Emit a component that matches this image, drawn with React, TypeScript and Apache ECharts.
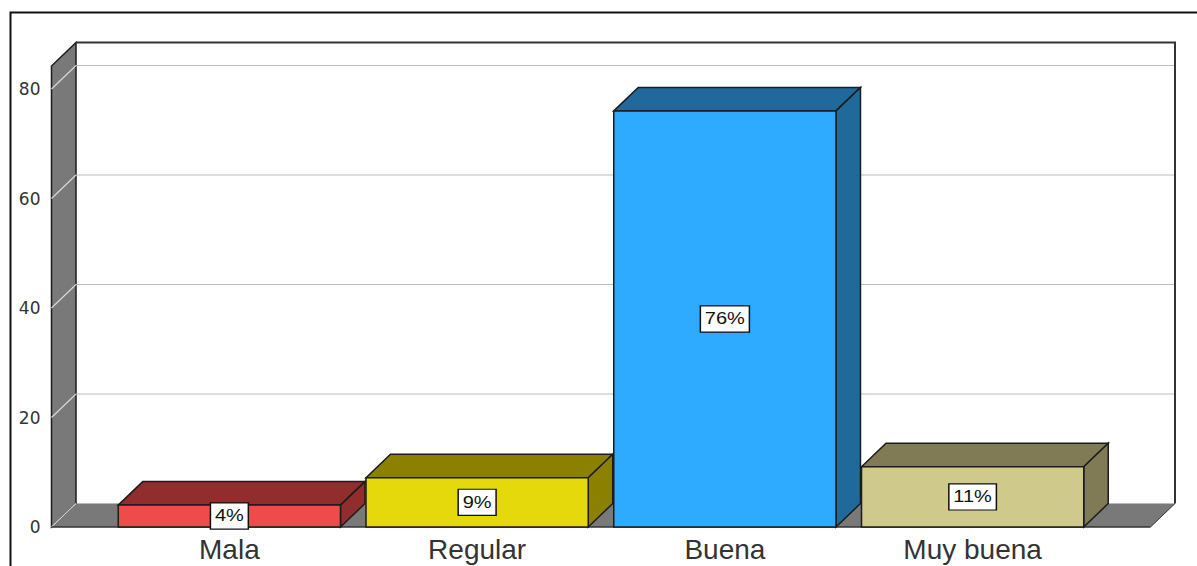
import React, { useEffect, useRef } from "react";
import * as echarts from "echarts";

const categories = ["Mala", "Regular", "Buena", "Muy buena"];
const percentages = [4, 9, 76, 11];
const frontColors = ["#EE4B4B", "#E5D80B", "#2EAAFF", "#CFC98B"];
const shadeColors = ["#922D2D", "#8C8000", "#1F6A9B", "#807B55"];
const yTicks = [0, 20, 40, 60, 80];
const wallTopValue = 84.2;

const DEPTH_X = 24.5;
const DEPTH_Y = 23.5;
const FLOOR_OVERHANG = 54;
const OUTLINE = "#1c1c1c";

const poly = (points: number[][], fill: string, stroke = OUTLINE, lineWidth = 1.5) => ({
  type: "polygon",
  shape: { points },
  style: { fill, stroke, lineWidth },
});

const segment = (points: number[][], stroke: string, lineWidth = 1.2) => ({
  type: "polyline",
  shape: { points },
  style: { fill: "none", stroke, lineWidth },
});

// Side wall, floor, back wall edges and the grid lines that fold across them.
function renderRoom(params: any, api: any) {
  const sys = params.coordSys;
  const left = sys.x - FLOOR_OVERHANG;
  const right = sys.x + sys.width + FLOOR_OVERHANG;
  const y0 = api.coord([0, 0])[1];
  const yTop = api.coord([0, wallTopValue])[1];
  const wallGray = "#797979";
  const children: any[] = [
    poly(
      [[left, y0], [left + DEPTH_X, y0 - DEPTH_Y], [right + DEPTH_X, y0 - DEPTH_Y], [right, y0]],
      wallGray,
      "none",
      0,
    ),
    poly(
      [[left, y0], [left, yTop], [left + DEPTH_X, yTop - DEPTH_Y], [left + DEPTH_X, y0 - DEPTH_Y]],
      wallGray,
      OUTLINE,
      1.5,
    ),
  ];
  yTicks.forEach((tick) => {
    const y = api.coord([0, tick])[1];
    children.push(segment([[left, y], [left + DEPTH_X, y - DEPTH_Y]], "#d8d8d8"));
    if (tick > 0) {
      children.push(segment([[left + DEPTH_X, y - DEPTH_Y], [right + DEPTH_X, y - DEPTH_Y]], "#bdbdbd"));
    }
  });
  children.push(
    segment([[left + DEPTH_X, yTop - DEPTH_Y], [right + DEPTH_X, yTop - DEPTH_Y], [right + DEPTH_X, y0 - DEPTH_Y]], "#333333", 2),
    segment([[left, y0], [right, y0]], "#333333", 1.5),
    segment([[right, y0], [right + DEPTH_X, y0 - DEPTH_Y]], "#333333", 1),
  );
  return { type: "group", children };
}

// One extruded column: front face, top face, right side and its boxed percentage.
function renderColumn(params: any, api: any) {
  const index = api.value(0);
  const value = api.value(1);
  const [cx, top] = api.coord([index, value]);
  const [, base] = api.coord([index, 0]);
  const half = (api.size([1, 0])[0] * 0.897) / 2;
  const l = cx - half;
  const r = cx + half;
  const shade = shadeColors[params.dataIndex];
  return {
    type: "group",
    children: [
      poly([[l, top], [l + DEPTH_X, top - DEPTH_Y], [r + DEPTH_X, top - DEPTH_Y], [r, top]], shade),
      poly([[r, top], [r + DEPTH_X, top - DEPTH_Y], [r + DEPTH_X, base - DEPTH_Y], [r, base]], shade),
      poly([[l, top], [r, top], [r, base], [l, base]], frontColors[params.dataIndex]),
      {
        type: "text",
        x: cx,
        y: (top + base) / 2,
        scaleX: 1.25,
        style: {
          text: `${value}%`,
          fontFamily: "Liberation Sans",
          fontSize: 16,
          fill: "#111111",
          align: "center",
          verticalAlign: "middle",
          backgroundColor: "#ffffff",
          borderColor: "#111111",
          borderWidth: 1.2,
          padding: [5, 3, 4, 3],
        },
      },
    ],
  };
}

export default function App() {
  const ref = useRef<HTMLDivElement>(null);

  useEffect(() => {
    const chart = echarts.init(ref.current!, undefined, { renderer: "svg" });
    chart.setOption({
      animation: false,
      backgroundColor: "#ffffff",
      grid: { left: 105.5, top: 89, width: 991, height: 438 },
      xAxis: {
        type: "category",
        data: categories,
        axisLine: { show: false },
        axisTick: { show: false },
        axisLabel: {
          color: "#333333",
          fontFamily: "Liberation Sans",
          fontSize: 28,
          margin: 8,
        },
      },
      yAxis: {
        type: "value",
        min: 0,
        max: 80,
        interval: 20,
        axisLine: { show: false },
        axisTick: { show: false },
        splitLine: { show: false },
        axisLabel: {
          color: "#333333",
          fontFamily: "DejaVu Sans",
          fontSize: 17,
          margin: 65,
          padding: [4, 0, 0, 0],
        },
      },
      graphic: [
        {
          type: "polyline",
          shape: { points: [[10.5, 566], [10.5, 12.5], [1197, 12.5]] },
          style: { fill: "none", stroke: "#111111", lineWidth: 2 },
        },
      ],
      series: [
        {
          type: "custom",
          z: 1,
          renderItem: renderRoom,
          data: [[0, 0]],
          encode: { x: 0, y: 1 },
          silent: true,
        },
        {
          type: "custom",
          z: 2,
          renderItem: renderColumn,
          data: percentages.map((value, index) => [index, value]),
          encode: { x: 0, y: 1 },
        },
      ],
    });
    return () => chart.dispose();
  }, []);

  return (
    <div
      ref={ref}
      style={{ position: "fixed", left: 0, top: 0, width: 1197, height: 566, background: "#ffffff" }}
    />
  );
}
